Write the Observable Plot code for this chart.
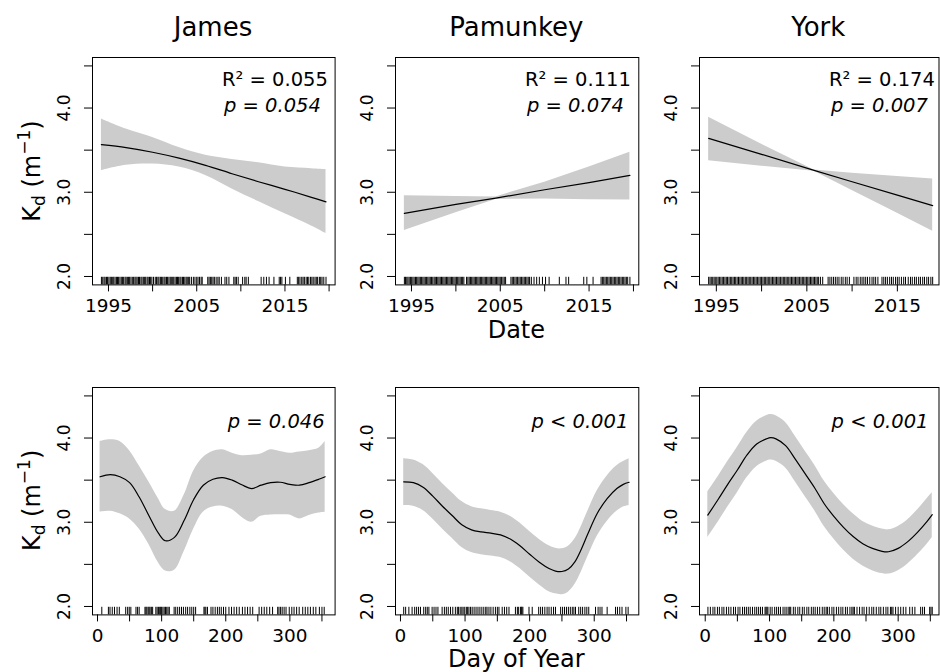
<!DOCTYPE html>
<html><head><meta charset="utf-8">
<script src="https://cdn.jsdelivr.net/npm/d3@7"></script>
<script src="https://cdn.jsdelivr.net/npm/@observablehq/plot@0.6"></script>
<style>
html,body{margin:0;padding:0;background:#fff;}
#fig{position:relative;width:940px;height:672px;overflow:hidden;background:#fff;}
#fig svg{position:absolute;}
</style></head><body><div id="fig"></div>
<script>
// ---------------- data ----------------
const rivers = ["James", "Pamunkey", "York"];
const r2Labels = ["R\u00B2 = 0.055", "R\u00B2 = 0.111", "R\u00B2 = 0.174"];
const pDateLabels = ["p = 0.054", "p = 0.074", "p = 0.007"];
const pDayLabels = ["p = 0.046", "p < 0.001", "p < 0.001"];
const yTicks = [2, 2.5, 3, 3.5, 4, 4.5];
const yLabelTicks = [2, 3, 4];
const yearTicks = [1995, 2000, 2005, 2010, 2015, 2020];
const yearLabelTicks = [1995, 2005, 2015];
const dayTicks = [0, 50, 100, 150, 200, 250, 300, 350];
const dayLabelTicks = [0, 100, 200, 300];
const yDomain = [1.9, 4.6];
const yearDomains = [[1993.19, 2020.68], [1993.2, 2020.6], [1993.14, 2019.6]];
const dayDomains = [[-7.8, 370.5], [-7.7, 369], [-8.9, 363.5]];

// --- Kd vs Date: fitted trend and confidence band ---
const jamesYears = [1994.2, 1997, 2000, 2003, 2006, 2009, 2012, 2015, 2018, 2019.65];
const jamesYearFit = [3.565, 3.53, 3.475, 3.405, 3.32, 3.22, 3.125, 3.035, 2.94, 2.885];
const jamesYearUpper = [3.87, 3.75, 3.65, 3.53, 3.44, 3.39, 3.35, 3.30, 3.28, 3.27];
const jamesYearLower = [3.257, 3.32, 3.336, 3.30, 3.20, 3.04, 2.89, 2.745, 2.60, 2.51];

const pamunkeyYears = [1994.2, 2000, 2004.5, 2010, 2015, 2019.6];
const pamunkeyYearFit = [2.75, 2.855, 2.93, 3.03, 3.115, 3.20];
const pamunkeyYearUpper = [2.957, 2.95, 2.945, 3.12, 3.30, 3.474];
const pamunkeyYearLower = [2.545, 2.757, 2.915, 2.92, 2.912, 2.909];

const yorkYears = [1994.15, 2000, 2005.8, 2010, 2015, 2018.9];
const yorkYearFit = [3.64, 3.45, 3.26, 3.125, 2.965, 2.842];
const yorkYearUpper = [3.89, 3.57, 3.265, 3.225, 3.187, 3.158];
const yorkYearLower = [3.375, 3.31, 3.25, 3.02, 2.75, 2.538];

// --- Kd vs Day of Year: fitted smooth and confidence band ---
const jamesDays = [4, 20, 35, 50, 65, 80, 95, 106, 120, 135, 150, 165, 180, 195, 210, 225, 240, 255, 270, 285, 300, 315, 330, 345, 355];
const jamesDayFit = [3.54, 3.565, 3.54, 3.47, 3.30, 3.08, 2.87, 2.78, 2.82, 3.02, 3.27, 3.44, 3.51, 3.53, 3.50, 3.445, 3.40, 3.44, 3.47, 3.475, 3.45, 3.44, 3.47, 3.51, 3.54];
const jamesDayUpper = [3.96, 3.98, 3.96, 3.85, 3.67, 3.48, 3.28, 3.15, 3.13, 3.32, 3.61, 3.77, 3.84, 3.86, 3.82, 3.79, 3.795, 3.81, 3.86, 3.84, 3.82, 3.835, 3.85, 3.88, 3.96];
const jamesDayLower = [3.12, 3.13, 3.10, 3.04, 2.92, 2.74, 2.52, 2.42, 2.43, 2.65, 2.92, 3.12, 3.18, 3.19, 3.15, 3.06, 3.00, 3.07, 3.085, 3.09, 3.085, 3.04, 3.08, 3.11, 3.12];

const pamunkeyDays = [5, 20, 35, 50, 65, 80, 95, 110, 125, 140, 155, 170, 185, 200, 215, 230, 240, 250, 260, 270, 280, 290, 305, 320, 335, 345, 354];
const pamunkeyDayFit = [3.48, 3.47, 3.415, 3.31, 3.19, 3.08, 2.97, 2.91, 2.885, 2.87, 2.85, 2.80, 2.72, 2.62, 2.525, 2.45, 2.42, 2.415, 2.445, 2.53, 2.68, 2.86, 3.11, 3.28, 3.40, 3.45, 3.475];
const pamunkeyDayUpper = [3.755, 3.74, 3.685, 3.58, 3.46, 3.35, 3.245, 3.185, 3.16, 3.14, 3.12, 3.07, 2.99, 2.89, 2.795, 2.72, 2.69, 2.685, 2.715, 2.80, 2.95, 3.13, 3.38, 3.55, 3.67, 3.72, 3.755];
const pamunkeyDayLower = [3.20, 3.19, 3.14, 3.04, 2.92, 2.81, 2.70, 2.64, 2.615, 2.60, 2.58, 2.53, 2.45, 2.35, 2.255, 2.175, 2.15, 2.14, 2.17, 2.26, 2.41, 2.59, 2.84, 3.01, 3.13, 3.18, 3.20];

const yorkDays = [4, 20, 35, 50, 65, 80, 95, 102, 110, 125, 140, 155, 170, 185, 200, 215, 230, 245, 260, 275, 285, 300, 315, 330, 345, 353];
const yorkDayFit = [3.085, 3.27, 3.45, 3.62, 3.80, 3.93, 3.99, 4.005, 3.99, 3.91, 3.75, 3.58, 3.41, 3.22, 3.07, 2.94, 2.83, 2.745, 2.69, 2.655, 2.65, 2.69, 2.77, 2.88, 3.01, 3.09];
const yorkDayUpper = [3.36, 3.54, 3.72, 3.89, 4.07, 4.20, 4.265, 4.28, 4.265, 4.185, 4.02, 3.85, 3.68, 3.49, 3.34, 3.21, 3.10, 3.01, 2.955, 2.92, 2.91, 2.95, 3.03, 3.145, 3.28, 3.35];
const yorkDayLower = [2.82, 3.00, 3.18, 3.35, 3.53, 3.66, 3.725, 3.74, 3.725, 3.645, 3.48, 3.31, 3.14, 2.95, 2.80, 2.67, 2.56, 2.48, 2.425, 2.39, 2.385, 2.425, 2.505, 2.615, 2.74, 2.82];

// --- rug: sampling dates (decimal years) ---
const jamesRugYears = [1994.2, 1994.35, 1994.5, 1994.62, 1994.78, 1994.9, 1995.05, 1995.2, 1995.33, 1995.48, 1995.6, 1995.75, 1995.9, 1996.02, 1996.15, 1996.3, 1996.45, 1996.58, 1996.72, 1996.88, 1997.0, 1997.14, 1997.28, 1997.4, 1997.55, 1997.7, 1997.85, 1998.0, 1998.12, 1998.25, 1998.4, 1998.52, 1998.68, 1998.8, 1998.95, 1999.1, 1999.22, 1999.38, 1999.5, 1999.65, 1999.78, 1999.92, 2000.1, 2000.3, 2000.45, 2000.6, 2000.72, 2000.88, 2001.0, 2001.15, 2001.3, 2001.42, 2001.58, 2001.7, 2001.85, 2002.0, 2002.12, 2002.28, 2002.4, 2002.55, 2002.7, 2002.82, 2002.95, 2003.1, 2003.22, 2003.38, 2003.5, 2003.65, 2003.8, 2003.92, 2004.05, 2004.2, 2004.4, 2004.62, 2004.8, 2005.0, 2005.15, 2005.32, 2005.5, 2005.62, 2006.25, 2006.4, 2006.55, 2006.7, 2006.85, 2007.0, 2007.2, 2007.4, 2007.55, 2007.8, 2008.2, 2008.4, 2008.65, 2009.2, 2009.35, 2009.5, 2009.7, 2010.2, 2010.45, 2010.6, 2010.85, 2012.3, 2012.6, 2012.9, 2013.2, 2013.75, 2014.35, 2014.5, 2014.65, 2015.05, 2015.55, 2016.4, 2016.55, 2016.7, 2016.9, 2017.05, 2017.2, 2017.4, 2017.55, 2017.7, 2017.9, 2018.05, 2018.2, 2018.4, 2018.55, 2018.7, 2018.9, 2019.05, 2019.2, 2019.4, 2019.65];
const pamunkeyRugYears = [1994.2, 1994.33, 1994.47, 1994.6, 1994.74, 1994.88, 1995.02, 1995.16, 1995.3, 1995.45, 1995.58, 1995.72, 1995.86, 1996.0, 1996.14, 1996.28, 1996.42, 1996.56, 1996.7, 1996.84, 1996.98, 1997.12, 1997.26, 1997.4, 1997.55, 1997.68, 1997.82, 1997.96, 1998.1, 1998.24, 1998.38, 1998.52, 1998.66, 1998.8, 1998.94, 1999.08, 1999.22, 1999.36, 1999.5, 1999.64, 1999.78, 1999.92, 2000.06, 2000.2, 2000.34, 2000.48, 2000.62, 2000.76, 2000.9, 2001.2, 2001.35, 2001.5, 2001.64, 2001.78, 2001.92, 2002.06, 2002.2, 2002.34, 2002.48, 2002.62, 2002.76, 2002.9, 2003.04, 2003.18, 2003.32, 2003.46, 2003.6, 2003.74, 2003.88, 2004.02, 2004.16, 2004.3, 2004.44, 2004.58, 2004.72, 2004.86, 2005.0, 2005.15, 2005.3, 2005.45, 2005.6, 2006.2, 2006.35, 2006.5, 2006.65, 2006.8, 2006.95, 2007.1, 2007.25, 2007.4, 2007.55, 2007.7, 2007.85, 2008.0, 2008.15, 2008.3, 2008.5, 2008.8, 2009.1, 2009.4, 2009.75, 2010.1, 2010.5, 2011.65, 2012.4, 2012.7, 2014.4, 2014.75, 2015.45, 2016.35, 2016.5, 2016.65, 2016.8, 2016.95, 2017.1, 2017.25, 2017.4, 2017.55, 2017.7, 2017.85, 2018.0, 2018.15, 2018.3, 2018.45, 2018.6, 2018.75, 2018.9, 2019.05, 2019.2, 2019.35, 2019.6];
const yorkRugYears = [1994.15, 1994.3, 1994.44, 1994.6, 1994.75, 1994.88, 1995.05, 1995.2, 1995.34, 1995.5, 1995.65, 1995.8, 1995.95, 1996.1, 1996.24, 1996.4, 1996.55, 1996.7, 1996.85, 1997.0, 1997.14, 1997.3, 1997.45, 1997.6, 1997.75, 1997.9, 1998.04, 1998.2, 1998.35, 1998.5, 1998.64, 1998.8, 1998.95, 1999.1, 1999.25, 1999.4, 1999.54, 1999.7, 1999.85, 2000.0, 2000.15, 2000.3, 2000.45, 2000.6, 2000.74, 2000.9, 2001.05, 2001.2, 2001.35, 2001.5, 2001.65, 2001.8, 2001.94, 2002.1, 2002.25, 2002.4, 2002.55, 2002.7, 2002.84, 2003.0, 2003.15, 2003.3, 2003.45, 2003.6, 2003.75, 2003.9, 2004.04, 2004.2, 2004.35, 2004.5, 2004.65, 2004.8, 2004.95, 2005.1, 2005.25, 2005.4, 2005.55, 2005.7, 2005.85, 2006.0, 2006.15, 2006.3, 2006.5, 2006.75, 2007.35, 2007.55, 2007.75, 2007.95, 2008.15, 2008.35, 2008.55, 2008.8, 2009.0, 2009.25, 2009.45, 2009.7, 2010.2, 2010.45, 2010.65, 2010.9, 2011.1, 2011.3, 2011.5, 2011.7, 2011.95, 2012.2, 2012.4, 2012.6, 2012.85, 2013.3, 2013.5, 2013.7, 2013.9, 2014.15, 2014.35, 2014.55, 2014.8, 2015.0, 2015.2, 2015.45, 2015.7, 2015.9, 2016.2, 2016.45, 2016.65, 2016.9, 2017.1, 2017.35, 2017.55, 2017.8, 2018.0, 2018.25, 2018.45, 2018.7, 2018.9];

// --- rug: sampling days of year ---
const jamesRugDays = [6.7, 17, 19.5, 23, 26.5, 30.5, 34, 44, 47, 49.5, 52, 60, 62.5, 65, 74, 75.5, 77, 79, 80.5, 82, 84, 86, 91, 93, 95, 97, 98.5, 100, 102, 104, 106, 108, 110, 112, 119.5, 122, 125, 128, 131, 134, 137.5, 140.5, 144, 147, 150, 153, 166, 167.5, 169, 171.5, 177, 180, 183.5, 187, 190, 193, 196.5, 200, 205, 209, 213, 217, 221, 226, 230, 234, 238, 242, 252, 256, 260, 264, 268.5, 273, 281, 283, 285.5, 288, 291, 294, 299, 303, 306.5, 310.5, 314.5, 320, 324, 328, 332, 336.5, 340.5, 346, 350, 353.5];
const pamunkeyRugDays = [5, 8, 13, 18, 22, 25, 28, 31, 36, 39, 41.5, 44, 49, 52, 55, 58, 64.5, 68, 71, 74, 77.5, 81, 85, 88, 90, 92.5, 95, 97, 99.5, 102, 104, 106, 108.5, 111, 114, 117, 120, 123, 126, 129, 132, 134, 137, 140, 143.5, 147, 150, 152.5, 157.5, 161, 164.5, 168, 178, 181, 183, 186, 187, 188, 189.5, 199, 204, 214, 217, 220, 223.5, 227, 230, 233.5, 237, 240, 248, 251, 254, 257, 260, 263, 266, 268.5, 271, 276, 279, 282, 285.5, 288.5, 291.5, 302, 306, 309, 312, 320, 333, 336, 339.5, 343, 349, 352.5];
const yorkRugDays = [4.2, 8, 12, 15, 19, 22, 26, 29, 33, 36.5, 40, 44, 47, 51, 54, 58, 61, 64, 67, 70, 73.5, 77, 80, 83, 86, 89, 93, 94.5, 96, 97.5, 101, 104, 108, 111, 114, 117, 121, 124, 127, 130, 131.5, 133, 137, 140, 144, 147, 151, 154, 158, 161, 165, 168, 171, 174.5, 178, 182, 185, 188, 190, 193, 197, 200, 204, 207.5, 211, 214, 218, 221, 225, 228, 230, 232, 236, 240, 244, 247, 251, 255, 259, 262, 266, 270, 273, 277, 281, 284, 288, 290, 292, 296, 300, 304, 308, 312, 318, 322, 326, 335, 338, 341, 349, 351, 353];

// ---------------- layout ----------------
const FONT = "'DejaVu Sans', 'Liberation Sans', sans-serif";
const colLeft = [91.7, 394.7, 698.5];
const colWidth = [242.6, 243.3, 239.5];
const rowTop = [57.3, 386.7];
const frameH = 227.4;
const ML = 56, MR = 4, MT = 4, MB = 44;
const fig = document.getElementById("fig");

function panel(o) {
  const rows = o.grid.map((x, i) => ({x, fit: o.fit[i], hi: o.upper[i], lo: o.lower[i]}));
  const svg = Plot.plot({
    width: ML + o.width + MR,
    height: MT + frameH + MB,
    marginLeft: ML, marginRight: MR, marginTop: MT, marginBottom: MB,
    x: {domain: o.xDomain},
    y: {domain: yDomain},
    style: {fontFamily: FONT, color: "#000", background: "transparent", overflow: "visible"},
    marks: [
      Plot.areaY(rows, {x: "x", y1: "lo", y2: "hi", fill: "#cccccc", curve: o.curve}),
      Plot.lineY(rows, {x: "x", y: "fit", stroke: "#000", strokeWidth: 1.2, curve: o.curve}),
      Plot.ruleX(o.rug, {x: d => d, y1: 1.9, y2: 1.99, stroke: "#000", strokeWidth: 1}),
      Plot.frame({stroke: "#000", strokeWidth: 1}),
      Plot.axisX({ticks: o.xTicks, tickFormat: () => "", tickSize: 7, label: null}),
      Plot.axisY({ticks: yTicks, tickFormat: () => "", tickSize: 8, label: null}),
      Plot.text(o.xLabels, {x: d => d, text: d => String(d), frameAnchor: "bottom", lineAnchor: "top", textAnchor: "middle", dy: 13.6, fontSize: 18.5}),
      Plot.text(yLabelTicks, {y: d => d, text: d => d.toFixed(1), frameAnchor: "left", rotate: -90, lineAnchor: "bottom", textAnchor: "middle", dx: -23, fontSize: 17}),
      ...o.notes
    ]
  });
  svg.style.left = (o.left - ML) + "px";
  svg.style.top = (o.top - MT) + "px";
  fig.appendChild(svg);
}

const dateSets = [
  [jamesYears, jamesYearFit, jamesYearUpper, jamesYearLower, jamesRugYears, "catmull-rom"],
  [pamunkeyYears, pamunkeyYearFit, pamunkeyYearUpper, pamunkeyYearLower, pamunkeyRugYears, "linear"],
  [yorkYears, yorkYearFit, yorkYearUpper, yorkYearLower, yorkRugYears, "linear"]
];
const daySets = [
  [jamesDays, jamesDayFit, jamesDayUpper, jamesDayLower, jamesRugDays],
  [pamunkeyDays, pamunkeyDayFit, pamunkeyDayUpper, pamunkeyDayLower, pamunkeyRugDays],
  [yorkDays, yorkDayFit, yorkDayUpper, yorkDayLower, yorkRugDays]
];

rivers.forEach((r, i) => {
  const [g, f, u, l, rug, curve] = dateSets[i];
  panel({
    grid: g, fit: f, upper: u, lower: l, rug, curve, width: colWidth[i],
    xDomain: yearDomains[i], xTicks: yearTicks, xLabels: yearLabelTicks,
    left: colLeft[i], top: rowTop[0],
    notes: [
      Plot.text([r2Labels[i]], {text: d => d, frameAnchor: "top-left", textAnchor: "start", lineAnchor: "top", dx: 129.5, dy: 14.8, fontSize: 19.5}),
      Plot.text([pDateLabels[i]], {text: d => d, frameAnchor: "top-left", textAnchor: "start", lineAnchor: "top", dx: 131.5, dy: 40.5, fontSize: 19.5, fontStyle: "italic"})
    ]
  });
  const [g2, f2, u2, l2, rug2] = daySets[i];
  panel({
    grid: g2, fit: f2, upper: u2, lower: l2, rug: rug2, curve: "catmull-rom", width: colWidth[i],
    xDomain: dayDomains[i], xTicks: dayTicks, xLabels: dayLabelTicks,
    left: colLeft[i], top: rowTop[1],
    notes: [
      Plot.text([pDayLabels[i]], {text: d => d, frameAnchor: "top-right", textAnchor: "end", lineAnchor: "top", dx: -10.5, dy: 26.8, fontSize: 19.5, fontStyle: "italic"})
    ]
  });
});

// ---------------- titles and axis titles ----------------
const ov = d3.select(fig).append("svg")
  .attr("width", 940).attr("height", 672)
  .style("left", "0px").style("top", "0px")
  .style("pointer-events", "none")
  .attr("font-family", FONT).attr("fill", "#000");

const centerX = i => colLeft[i] + colWidth[i] / 2;
rivers.forEach((r, i) => {
  ov.append("text").attr("x", centerX(i)).attr("y", 35.5)
    .attr("text-anchor", "middle").attr("font-size", 26).text(r);
});
ov.append("text").attr("x", centerX(1)).attr("y", 337.5)
  .attr("text-anchor", "middle").attr("font-size", 24).text("Date");
ov.append("text").attr("x", centerX(1)).attr("y", 667)
  .attr("text-anchor", "middle").attr("font-size", 24).text("Day of Year");

rowTop.forEach(t => {
  const cy = t + frameH / 2;
  const tx = ov.append("text").attr("transform", `translate(40,${cy}) rotate(-90)`)
    .attr("text-anchor", "middle").attr("font-size", 24);
  tx.append("tspan").text("K");
  tx.append("tspan").attr("font-size", 17).attr("dy", 5).text("d");
  tx.append("tspan").attr("dy", -5).text(" (m");
  tx.append("tspan").attr("font-size", 17).attr("dy", -10).text("\u22121");
  tx.append("tspan").attr("dy", 10).text(")");
});
</script></body></html>
